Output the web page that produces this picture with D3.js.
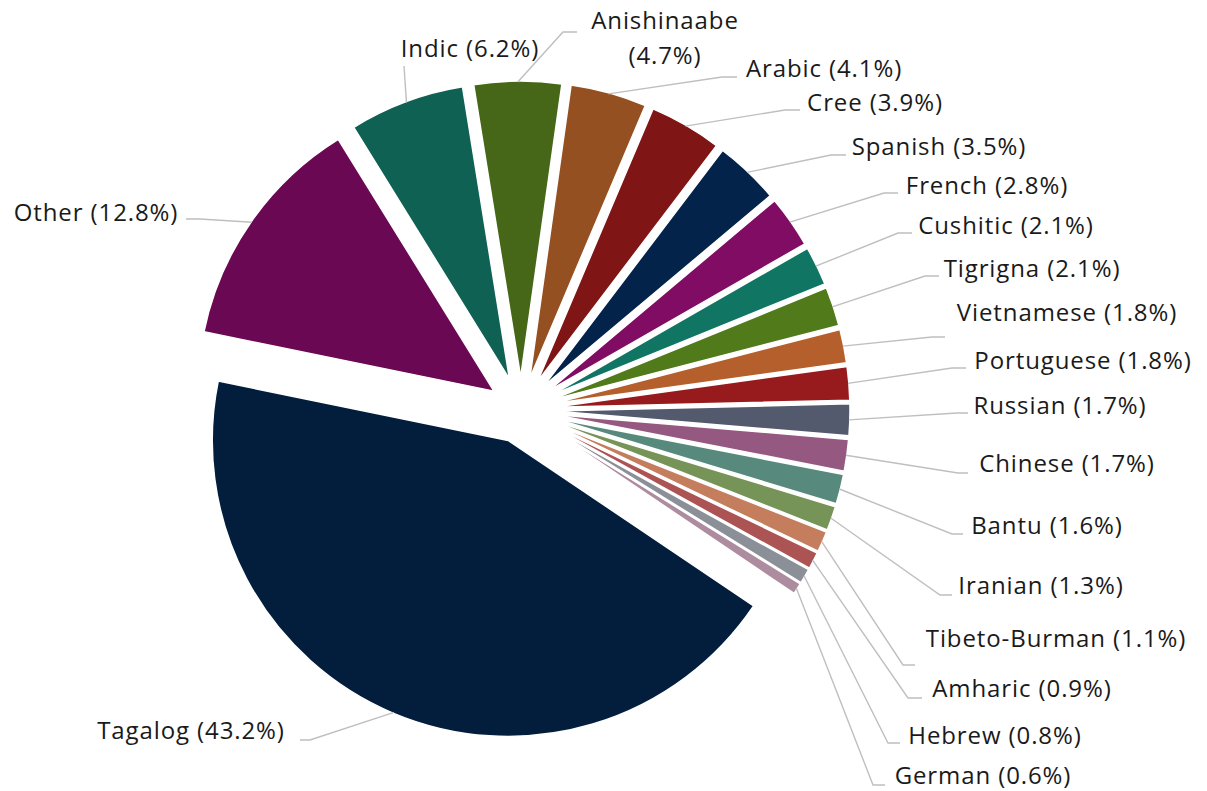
<!DOCTYPE html>
<html>
<head>
<meta charset="utf-8">
<script src="https://cdn.jsdelivr.net/npm/d3@7"></script>
<style>
  html, body { margin: 0; padding: 0; background: #ffffff; }
  svg text { font-family: "Open Sans", "DejaVu Sans", sans-serif; fill: #1a1a1a; }
</style>
</head>
<body>
<script>
(function() {

  // data (share of speakers, %)
  let languages = ["Tagalog", "Other", "Indic", "Anishinaabe", "Arabic", "Cree", "Spanish",
    "French", "Cushitic", "Tigrigna", "Vietnamese", "Portuguese", "Russian", "Chinese",
    "Bantu", "Iranian", "Tibeto-Burman", "Amharic", "Hebrew", "German"];
  let shares = [43.2, 12.8, 6.2, 4.7, 4.1, 3.9, 3.5, 2.8, 2.1, 2.1, 1.8, 1.8, 1.7, 1.7,
    1.6, 1.3, 1.1, 0.9, 0.8, 0.6];
  let sliceColors = ["#031e3d", "#6b0853", "#0f6153", "#466717", "#955022", "#801516",
    "#03234a", "#800c63", "#107562", "#517a1a", "#b5602c", "#971b1c", "#535a6e",
    "#955880", "#578a7d", "#779458", "#c47e5e", "#ac5353", "#8b8f97", "#ad8c9f"];

  // label layout: text centre, and where the leader line meets the label
  let labelCentre = [[191, 729], [96, 211], [470, 47], [665, 19], [824, 67], [875, 101],
    [939, 145], [987, 184], [1006, 224], [1032, 267], [1067, 311], [1083, 359],
    [1060, 404], [1067, 462], [1047, 524], [1041, 584], [1056, 637], [1022, 687],
    [995, 734], [983, 774]];
  let labelAttach = [[300, 740], [186, 219], [404, 66], [577, 32], [737, 77], [800, 110],
    [846, 155], [898, 193], [912, 233], [939, 276], [945, 337], [966, 368], [968, 413],
    [968, 473], [963, 534], [952, 595], [915, 665], [922, 698], [900, 743], [885, 785]];
  let elbowLen = [10, 14, 0, 14, 15, 15, 15, 14, 14, 14, 13, 14, 11, 10, 11, 12, 12, 14, 12, 12];

  let width = 1207, height = 791;
  let cx = 521, cy = 410, radius = 296, explode = 33;
  let startDeg = 124;

  let svg = d3.select("body").append("svg")
    .attr("width", width)
    .attr("height", height);

  let rows = languages.map((name, i) => ({ name: name, value: shares[i], i: i }));

  let pie = d3.pie()
    .sort(null)
    .value((d) => d.value)
    .startAngle(startDeg * Math.PI / 180)
    .endAngle(startDeg * Math.PI / 180 + 2 * Math.PI);

  let arcs = pie(rows);
  let arc = d3.arc().innerRadius(0).outerRadius(radius);

  function dir(a) { return [Math.sin(a), -Math.cos(a)]; }
  function mid(d) { return (d.startAngle + d.endAngle) / 2; }

  // slices, each pulled out from the centre
  svg.append("g")
    .attr("transform", `translate(${cx},${cy})`)
    .selectAll("path")
    .data(arcs)
    .enter()
    .append("path")
    .attr("transform", (d) => {
      let v = dir(mid(d));
      return `translate(${v[0] * explode},${v[1] * explode})`;
    })
    .attr("d", arc)
    .attr("fill", (d) => sliceColors[d.data.i])
    .attr("stroke", "#ffffff")
    .attr("stroke-width", 1.5)
    .attr("stroke-linejoin", "round");

  // leader lines
  svg.append("g")
    .selectAll("polyline")
    .data(arcs)
    .enter()
    .append("polyline")
    .attr("points", (d) => {
      let i = d.data.i;
      let v = dir(mid(d));
      let p0 = [cx + v[0] * (explode + radius - 1), cy + v[1] * (explode + radius - 1)];
      let a = labelAttach[i];
      let side = a[0] < p0[0] ? 1 : -1;
      let e = [a[0] + side * elbowLen[i], a[1]];
      return [p0, e, a].map((p) => p.join(",")).join(" ");
    })
    .attr("fill", "none")
    .attr("stroke", "#bfbfbf")
    .attr("stroke-width", 1.4);

  // labels
  let labels = svg.append("g")
    .selectAll("text")
    .data(arcs)
    .enter()
    .append("text")
    .attr("x", (d) => labelCentre[d.data.i][0])
    .attr("y", (d) => labelCentre[d.data.i][1])
    .attr("text-anchor", "middle")
    .attr("dominant-baseline", "central")
    .style("font-size", "24px")
    .style("letter-spacing", "0.9px");

  labels.each(function(d) {
    let t = d3.select(this);
    let pct = "(" + d.data.value.toFixed(1) + "%)";
    if (d.data.name === "Anishinaabe") {
      t.append("tspan").attr("x", labelCentre[d.data.i][0]).text(d.data.name);
      t.append("tspan").attr("x", labelCentre[d.data.i][0]).attr("dy", 35).text(pct);
    } else {
      t.text(d.data.name + " " + pct);
    }
  });

})();
</script>
</body>
</html>
